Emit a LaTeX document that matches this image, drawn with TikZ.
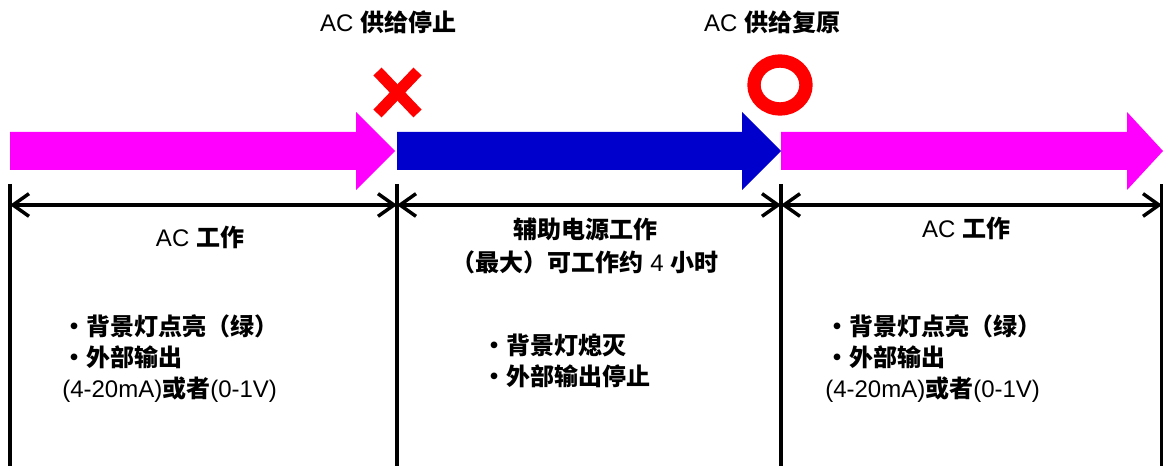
\documentclass[tikz,border=0pt]{standalone}
\usepackage{fontspec}
\setmainfont{Liberation Sans}
\newfontfamily\cjk{Noto Sans CJK SC}
\newcommand{\zh}[1]{{\cjk\bfseries #1}}
\usetikzlibrary{arrows.meta}

\definecolor{acpink}{RGB}{255,0,255}
\definecolor{auxblue}{RGB}{0,0,204}
\definecolor{markred}{RGB}{255,0,0}

\begin{document}
\begin{tikzpicture}[
        x=0.75pt, y=-0.75pt,
        font=\fontsize{18}{23.25}\selectfont,
        inner sep=0pt,
        title/.style={align=center},
        notes/.style={anchor=west, align=left},
        divider/.style={draw, line width=3pt},
        span/.style={draw, line width=2.6pt,
          {Straight Barb[length=12pt, width=17pt]}-{Straight Barb[length=12pt, width=17pt]}},
        crossmark/.style={draw=markred, line width=8.5pt},
        okmark/.style={draw=markred, line width=10pt}
      ]
      \useasboundingbox (0,0) rectangle (1163,466);

      % block arrows
      \fill[acpink] (10,132) -- (356,132) -- (356,112) -- (395,151)
      -- (356,190) -- (356,170) -- (10,170) -- cycle;
      \fill[auxblue] (397,132) -- (742,132) -- (742,112) -- (781,151)
      -- (742,190) -- (742,170) -- (397,170) -- cycle;
      \fill[acpink] (781,132) -- (1127,132) -- (1127,112) -- (1163,151)
      -- (1127,190) -- (1127,170) -- (781,170) -- cycle;

      % marks
      \coordinate (x_c) at (397.5,92.5);
      \draw[crossmark] ([shift={(-20,-21)}]x_c) -- ([shift={(20,21)}]x_c);
      \draw[crossmark] ([shift={(-20,21)}]x_c) -- ([shift={(20,-21)}]x_c);
      \draw[okmark] (780,85) ellipse [x radius=26, y radius=24];

      \node [title] (t_stop) at (388,22) {AC \zh{供给停止}};
      \node [title] (t_back) at (772,22) {AC \zh{供给复原}};

      % dividers
      \coordinate (v0a) at (10,184);   \coordinate (v0b) at (10,470);
      \coordinate (v1a) at (397,184);  \coordinate (v1b) at (397,470);
      \coordinate (v2a) at (781,184);  \coordinate (v2b) at (781,470);
      \coordinate (v3a) at (1162,184); \coordinate (v3b) at (1162,470);
      \path [divider] (v0a) -- (v0b);
      \path [divider] (v1a) -- (v1b);
      \path [divider] (v2a) -- (v2b);
      \path [divider] (v3a) -- (v3b);

      \coordinate (d0) at (10,205);
      \coordinate (d1) at (397,205);
      \coordinate (d2) at (781,205);
      \coordinate (d3) at (1162,205);
      \path [span] (d0) -- (d1);
      \path [span] (d1) -- (d2);
      \path [span] (d2) -- (d3);

      % phases
      \node [title] (p_ac1) at (200,237) {AC \zh{工作}};
      \node [title, font=\fontsize{18}{24.75}\selectfont] (p_aux) at (585,246)
      {\zh{辅助电源工作}\\\zh{（最大）可工作约} 4 \zh{小时}};
      \node [title] (p_ac2) at (966,228) {AC \zh{工作}};

      \node [notes] (n_ac1) at (62,359)
      {\zh{・背景灯点亮（绿）}\\\zh{・外部输出}\\(4-20mA)\zh{或者}(0-1V)};
      \node [notes] (n_aux) at (482,361)
      {\zh{・背景灯熄灭}\\\zh{・外部输出停止}};
      \node [notes] (n_ac2) at (825,359)
      {\zh{・背景灯点亮（绿）}\\\zh{・外部输出}\\(4-20mA)\zh{或者}(0-1V)};

    \end{tikzpicture}
\end{document}
